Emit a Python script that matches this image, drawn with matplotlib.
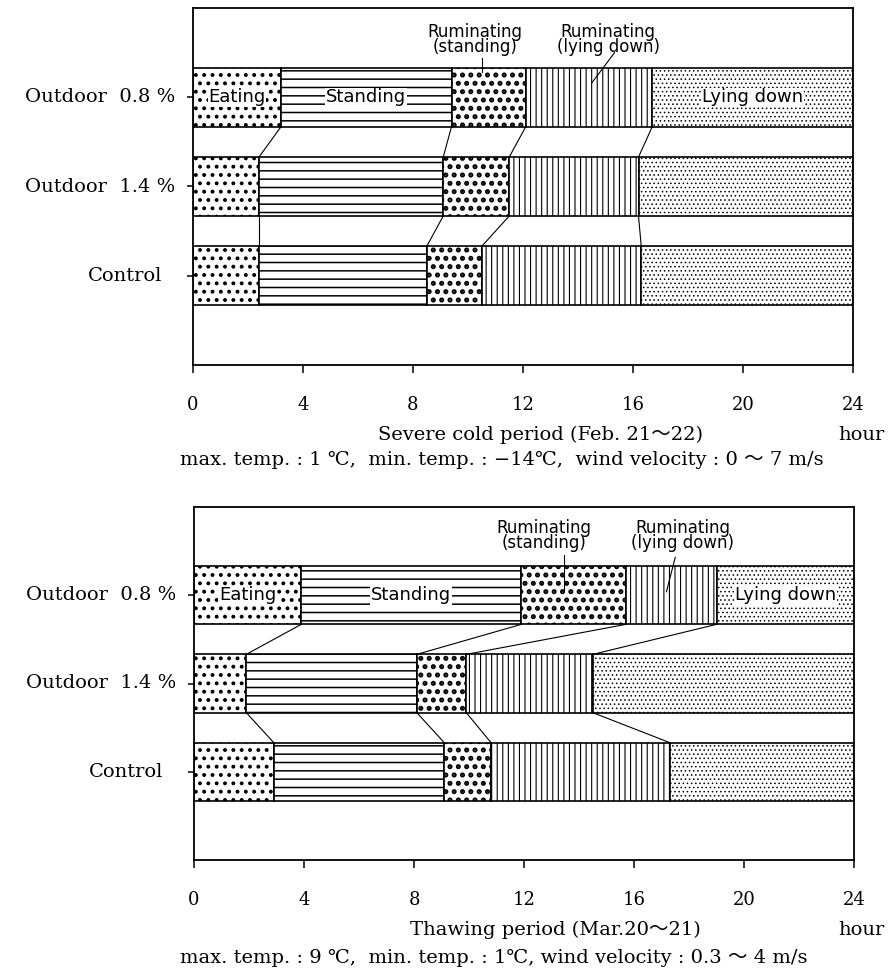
import numpy as np
import matplotlib
matplotlib.use("Agg")
import matplotlib.pyplot as plt

# rows and behaviours (order of the bar segments, left to right)
rows = ["Outdoor  0.8 %", "Outdoor  1.4 %", "Control"]
acts = ["Eating", "Standing", "Ruminating\n(standing)", "Ruminating\n(lying down)", "Lying down"]
hour_ticks = [0, 4, 8, 12, 16, 20, 24]

# hours spent in each behaviour (severe cold period)
cold_08 = [3.2, 6.2, 2.7, 4.6, 7.3]
cold_14 = [2.4, 6.7, 2.4, 4.7, 7.8]
cold_ctl = [2.4, 6.1, 2.0, 5.8, 7.7]

# hours spent in each behaviour (thawing period)
thaw_08 = [3.9, 8.0, 3.8, 3.3, 5.0]
thaw_14 = [1.9, 6.2, 1.8, 4.6, 9.5]
thaw_ctl = [2.9, 6.2, 1.7, 6.5, 6.7]

hatches = ["..", "--", "..", "|||", "...."]
hatch_lw = [1.6, 1.1, 2.4, 0.8, 0.6]

serif = ["DejaVu Serif", "Noto Sans CJK JP"]
sans = ["DejaVu Sans", "Noto Sans CJK JP"]

W, H = 892, 974
fig = plt.figure(figsize=(W / 100, H / 100), dpi=100)


def px_axes(l, r, t, b):
    return fig.add_axes([l / W, 1 - b / H, (r - l) / W, (b - t) / H])


def panel(ax, data, notes):
    ypos = [3, 2, 1]
    h = 0.66
    for r, vals in enumerate(data):
        left = 0
        for k, v in enumerate(vals):
            with plt.rc_context({"hatch.linewidth": hatch_lw[k]}):
                bars = ax.barh(ypos[r], v, left=left, height=h, color="white",
                               edgecolor="black", hatch=hatches[k], linewidth=1.2)
            for p in bars:
                if hasattr(p, "set_hatch_linewidth"):
                    p.set_hatch_linewidth(hatch_lw[k])
            left += v
    # lines joining segment borders of neighbouring rows
    for r in range(len(data) - 1):
        cu = np.cumsum(data[r])
        cl = np.cumsum(data[r + 1])
        for k in range(len(cu) - 1):
            ax.plot([cu[k], cl[k]], [ypos[r] - h / 2, ypos[r + 1] + h / 2],
                    color="black", lw=0.8)
    # names written inside the top bar
    c = np.cumsum([0] + data[0])
    for k in [0, 1, 4]:
        ax.text((c[k] + c[k + 1]) / 2, ypos[0], acts[k], ha="center", va="center",
                fontsize=13, family=sans,
                bbox=dict(facecolor="white", edgecolor="none", pad=0.5))
    # ruminating labels with leader lines
    for k, (tx, ty, lx, ly) in zip([2, 3], notes):
        ax.text(tx, ty, acts[k], ha="center", va="center", fontsize=12,
                family=sans, linespacing=0.8)
        ax.plot(lx, ly, color="black", lw=0.8)

    ax.set_xlim(0, 24)
    ax.set_ylim(0, 4)
    ax.set_xticks(hour_ticks)
    ax.set_xticklabels([str(t) for t in hour_ticks], family=serif, fontsize=13)
    ax.set_yticks(ypos)
    ax.set_yticklabels([])
    ax.tick_params(axis="x", direction="out", length=6, width=1.1, pad=16)
    ax.tick_params(axis="y", direction="out", length=4, width=1.1)
    for s in ax.spines.values():
        s.set_linewidth(1.3)
    ax.text(-0.027, 3, rows[0], transform=ax.get_yaxis_transform(), ha="right",
            va="center", fontsize=14, family=serif)
    ax.text(-0.027, 2, rows[1], transform=ax.get_yaxis_transform(), ha="right",
            va="center", fontsize=14, family=serif)
    ax.text(-0.047, 1, rows[2], transform=ax.get_yaxis_transform(), ha="right",
            va="center", fontsize=14, family=serif)


ax1 = px_axes(193, 853, 8, 365)
panel(ax1, [cold_08, cold_14, cold_ctl],
      [(10.24, 3.65, [10.5, 10.5], [3.44, 3.28]),
       (15.1, 3.65, [15.33, 14.5], [3.50, 3.16])])

ax2 = px_axes(194, 854, 507, 860)
panel(ax2, [thaw_08, thaw_14, thaw_ctl],
      [(12.72, 3.68, [13.46, 13.46], [3.46, 3.06]),
       (17.76, 3.68, [17.5, 17.18], [3.43, 3.04])])

fig.text(540 / W, 1 - 435 / H, "Severe cold period (Feb. 21～22)", ha="center",
         va="center", fontsize=14, family=serif)
fig.text(838 / W, 1 - 435 / H, "hour", ha="left", va="center", fontsize=14, family=serif)
fig.text(502 / W, 1 - 460 / H,
         "max. temp. : 1 ℃,  min. temp. : −14℃,  wind velocity : 0 ～ 7 m/s",
         ha="center", va="center", fontsize=14, family=serif)

fig.text(555 / W, 1 - 930 / H, "Thawing period (Mar.20～21)", ha="center",
         va="center", fontsize=14, family=serif)
fig.text(838 / W, 1 - 930 / H, "hour", ha="left", va="center", fontsize=14, family=serif)
fig.text(494 / W, 1 - 958 / H,
         "max. temp. : 9 ℃,  min. temp. : 1℃, wind velocity : 0.3 ～ 4 m/s",
         ha="center", va="center", fontsize=14, family=serif)

fig.savefig("out.png", dpi=100)
